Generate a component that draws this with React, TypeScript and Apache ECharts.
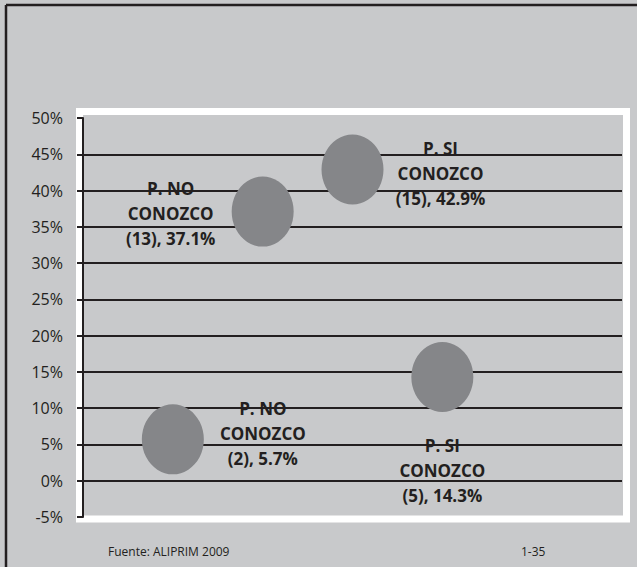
import React, { useEffect, useRef } from "react";
import * as echarts from "echarts";

// Bubble positions along the hidden horizontal axis
const xPositions = [1, 2, 3, 4];
const groupNames = ["P. NO CONOZCO", "P. NO CONOZCO", "P. SI CONOZCO", "P. SI CONOZCO"];
const counts = [2, 13, 15, 5];
const percents = [5.7, 37.1, 42.9, 14.3];
// Where each label sits relative to its bubble
const labelOffsets: [number, number][] = [
  [90, -6],
  [-92, 2],
  [88, 4],
  [0, 94],
];

const yTicksMin = -5;
const yTicksMax = 50;
const yTickStep = 5;

const sourceNote = "Fuente: ALIPRIM 2009";
const pageNote = "1-35";

const BG = "#c8c9cb";
const DARK = "#231f20";

export default function App() {
  const ref = useRef<HTMLDivElement>(null);

  useEffect(() => {
    if (!ref.current) return;
    const chart = echarts.init(ref.current, undefined, { renderer: "svg" });

    const data = xPositions.map((x, i) => {
      const [first] = groupNames[i].split(" CONOZCO");
      return {
        value: [x, percents[i]],
        name: groupNames[i],
        label: {
          offset: labelOffsets[i],
          formatter: `${first}\nCONOZCO\n(${counts[i]}), ${percents[i]}%`,
        },
      };
    });

    chart.setOption({
      animation: false,
      backgroundColor: BG,
      grid: { left: 83, right: 15, top: 118, bottom: 50, containLabel: false },
      xAxis: {
        type: "value",
        min: 0,
        max: 6,
        show: false,
      },
      yAxis: {
        type: "value",
        min: yTicksMin,
        max: yTicksMax,
        interval: yTickStep,
        offset: 3,
        axisLine: { show: true, lineStyle: { color: DARK, width: 2 } },
        axisTick: { show: true, length: 6, lineStyle: { color: DARK, width: 2 } },
        axisLabel: {
          margin: 17,
          color: DARK,
          fontFamily: "Open Sans",
          fontSize: 16,
          formatter: (v: number) => `${v}%`,
        },
        splitLine: {
          show: true,
          showMinLine: false,
          showMaxLine: false,
          lineStyle: { color: DARK, width: 2 },
        },
      },
      graphic: [
        // outer frame edges
        {
          type: "line",
          z: -10,
          shape: { x1: 6, y1: 5, x2: 637, y2: 5 },
          style: { stroke: DARK, lineWidth: 2.5 },
        },
        {
          type: "line",
          z: -10,
          shape: { x1: 6, y1: 5, x2: 6, y2: 567 },
          style: { stroke: DARK, lineWidth: 2.5 },
        },
        // white plot-area border
        {
          type: "rect",
          z: -10,
          shape: { x: 79.5, y: 111.5, width: 547, height: 407.5 },
          style: { fill: BG, stroke: "#ffffff", lineWidth: 7 },
        },
        {
          type: "text",
          left: 108,
          top: 545,
          style: {
            text: sourceNote,
            fill: DARK,
            fontFamily: "Open Sans",
            fontSize: 12,
          },
        },
        {
          type: "text",
          left: 521,
          top: 545,
          style: {
            text: pageNote,
            fill: DARK,
            fontFamily: "Open Sans",
            fontSize: 12,
          },
        },
      ],
      series: [
        {
          type: "scatter",
          symbol: "circle",
          symbolSize: [62, 70],
          itemStyle: { color: "#858689", opacity: 1 },
          label: {
            show: true,
            position: "inside",
            align: "center",
            verticalAlign: "middle",
            color: DARK,
            fontFamily: "Open Sans",
            fontWeight: "bold",
            fontSize: 17,
            lineHeight: 25,
          },
          emphasis: { disabled: true },
          data,
        },
      ],
    });

    return () => chart.dispose();
  }, []);

  return (
    <div
      ref={ref}
      style={{ position: "fixed", left: 0, top: 0, width: 637, height: 567 }}
    />
  );
}
